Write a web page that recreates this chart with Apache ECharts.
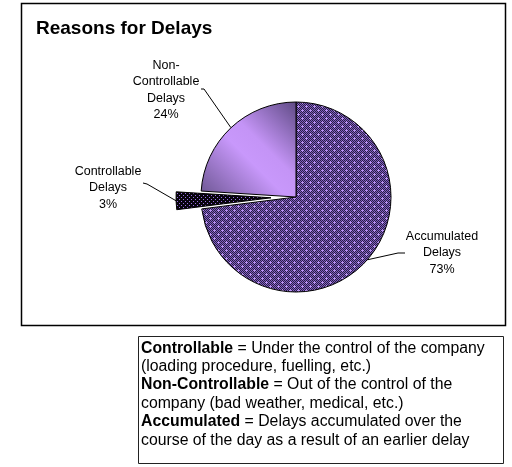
<!DOCTYPE html>
<html>
<head>
<meta charset="utf-8">
<script src="https://cdn.jsdelivr.net/npm/echarts@6/dist/echarts.min.js"></script>
<style>
  html, body { margin: 0; padding: 0; background: #fff; }
  #box { width: 512px; height: 467px; }
</style>
</head>
<body>
<div id="box"></div>
<script>
// data
const names = ["Accumulated\nDelays", "Controllable\nDelays", "Non-\nControllable\nDelays"];
const shares = [73, 3, 24];
const explodedIndex = 1;

// label placement (center of text block) and where the leader line ends
const labelPos = [
  { x: 442, y: 253, bend: [398, 253], end: [405, 253] },
  { x: 108, y: 188, bend: [147, 184], end: [143, 183] },
  { x: 166, y: 90, bend: [204, 89], end: [201, 89] }
];

const FONT = "'Liberation Sans', Arial, sans-serif";
const CENTER = [296, 197];
const RADIUS = 95;
const EXPLODE = 25;

// 8x8 pattern tiles like the old office fills
function makeTile(pick) {
  let c = document.createElement("canvas");
  c.width = 8;
  c.height = 8;
  let g = c.getContext("2d");
  for (let y = 0; y < 8; y++) {
    for (let x = 0; x < 8; x++) {
      g.fillStyle = pick(x, y);
      g.fillRect(x, y, 1, 1);
    }
  }
  return c;
}

function inPlus(x, y, cx, cy) {
  return (x === cx && Math.abs(y - cy) <= 1) || (y === cy && Math.abs(x - cx) <= 1);
}

// accumulated: dark checker with light crosses on a staggered grid
let accTile = makeTile((x, y) => {
  if (inPlus(x, y, 2, 2) || inPlus(x, y, 6, 6)) return "#b890f4";
  return (x + y) % 2 === 0 ? "#2a1d45" : "#8060c0";
});
// controllable: black with small purple dots
let ctlTile = makeTile((x, y) => {
  if ((x % 4 === 1 && y % 4 === 1) || (x % 4 === 3 && y % 4 === 3)) return "#9b6fe0";
  return "#08050e";
});

const sliceColors = [
  { image: accTile, repeat: "repeat" },
  { image: ctlTile, repeat: "repeat" },
  {
    type: "linear", x: 0, y: 1, x2: 1, y2: 0,
    colorStops: [
      { offset: 0, color: "#6a5490" },
      { offset: 0.45, color: "#c898fb" },
      { offset: 0.6, color: "#c494f6" },
      { offset: 1, color: "#5e4a84" }
    ]
  }
];

// where the pulled-out slice sits: along its mid angle
let total = shares.reduce((a, b) => a + b, 0);
let before = shares.slice(0, explodedIndex).reduce((a, b) => a + b, 0);
let midAng = ((90 - 360 * (before + shares[explodedIndex] / 2) / total) * Math.PI) / 180;
let explodedCenter = [CENTER[0] + EXPLODE * Math.cos(midAng), CENTER[1] - EXPLODE * Math.sin(midAng)];

const hidden = {
  itemStyle: { color: "rgba(0,0,0,0)", borderWidth: 0 },
  label: { show: false },
  labelLine: { show: false }
};

function buildData(showExploded) {
  return shares.map((v, i) => {
    let visible = (i === explodedIndex) === showExploded;
    let item = { name: names[i], value: v };
    if (visible) {
      item.itemStyle = { color: sliceColors[i] };
    } else {
      Object.assign(item, hidden);
    }
    return item;
  });
}

function pieSeries(center, showExploded) {
  return {
    type: "pie",
    center: center,
    radius: RADIUS,
    startAngle: 90,
    clockwise: true,
    avoidLabelOverlap: false,
    itemStyle: { borderColor: "#000", borderWidth: 1 },
    emphasis: { disabled: true },
    label: {
      show: true,
      position: "outside",
      fontFamily: FONT,
      fontSize: 12.5,
      lineHeight: 16.5,
      color: "#000",
      formatter: p => p.name + "\n" + p.value + "%"
    },
    labelLine: {
      show: true,
      length: 10,
      length2: 8,
      lineStyle: { color: "#000", width: 1 }
    },
    labelLayout: function (p) {
      let pos = labelPos[p.dataIndex];
      if (!pos) return {};
      let out = { x: pos.x, y: pos.y, align: "center", verticalAlign: "middle" };
      if (p.labelLinePoints) {
        out.labelLinePoints = [p.labelLinePoints[0], pos.bend, pos.end];
      }
      return out;
    },
    data: buildData(showExploded)
  };
}

let chart = echarts.init(document.getElementById("box"), null, { renderer: "canvas" });

chart.setOption({
  animation: false,
  backgroundColor: "#fff",
  title: {
    text: "Reasons for Delays",
    left: 36,
    top: 19,
    padding: 0,
    textStyle: { fontFamily: FONT, fontSize: 19, fontWeight: "bold", color: "#000" }
  },
  graphic: [
    {
      type: "rect",
      shape: { x: 21.5, y: 3.5, width: 484, height: 322 },
      style: { fill: null, stroke: "#000", lineWidth: 1.5 },
      silent: true,
      z: -1
    },
    {
      type: "rect",
      shape: { x: 138.5, y: 336.5, width: 365, height: 127 },
      style: { fill: "#fff", stroke: "#222", lineWidth: 1 },
      silent: true
    },
    {
      type: "text",
      x: 141,
      y: 339,
      silent: true,
      style: {
        text:
          "{b|Controllable} = Under the control of the company\n" +
          "(loading procedure, fuelling, etc.)\n" +
          "{b|Non-Controllable} = Out of the control of the\n" +
          "company (bad weather, medical, etc.)\n" +
          "{b|Accumulated} = Delays accumulated over the\n" +
          "course of the day as a result of an earlier delay",
        fontFamily: FONT,
        fontSize: 15.8,
        lineHeight: 18.4,
        fill: "#000",
        rich: {
          b: { fontFamily: FONT, fontSize: 15.8, fontWeight: "bold", lineHeight: 18.4, fill: "#000" }
        }
      }
    }
  ],
  series: [pieSeries(CENTER, false), pieSeries(explodedCenter, true)]
});
</script>
</body>
</html>
